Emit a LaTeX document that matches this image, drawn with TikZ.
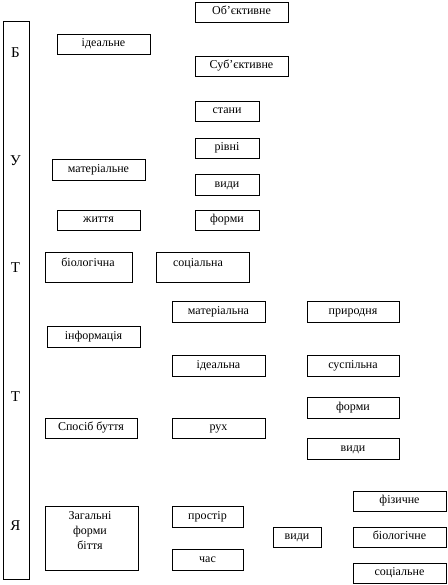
\documentclass[tikz,border=0pt]{standalone}
\usepackage{fontspec}
\setmainfont{Liberation Serif}
\begin{document}
\begin{tikzpicture}[x=1pt,y=-1pt,
  lbl/.style={font=\fontsize{12}{14}\selectfont,inner sep=0pt,text height=1.6ex,text depth=0.35ex},
  big/.style={font=\fontsize{15}{17}\selectfont,inner sep=0pt}]
\useasboundingbox (0,0) rectangle (447,585);
\newcommand{\bxx}[6]{%
  \draw[line width=0.8pt] (#2,#3) rectangle (#4,#5);
  \node[lbl] (#1) at ({(#2+#4)/2},{(#3+#5)/2}) {#6};}
% left tall box
\draw[line width=0.8pt] (3,21) rectangle (29,579);
\node[big] (lb) at (15.5,53) {Б};
\node[big] (lu) at (15.5,161) {У};
\node[big] (lt1) at (15.5,268) {Т};
\node[big] (lt2) at (15.5,397) {Т};
\node[big] (lya) at (15.5,526) {Я};
\bxx{obj}{195}{2}{288}{22}{Об’єктивне}
\bxx{ideal}{57}{34}{150}{54}{ідеальне}
\bxx{subj}{195}{56}{288}{76}{Суб’єктивне}
\bxx{stany}{195}{101}{259}{121}{стани}
\bxx{rivni}{195}{138}{259}{158}{рівні}
\bxx{vydy1}{195}{174}{259}{195}{види}
\bxx{formy1}{195}{210}{259}{230}{форми}
\bxx{mat}{52}{159}{145}{180}{матеріальне}
\bxx{zhyt}{57}{210}{140}{230}{життя}
\draw[line width=0.8pt] (45,252) rectangle (132,282);
\node[lbl] (bio) at (88,264) {біологічна};
\draw[line width=0.8pt] (156,252) rectangle (249,282);
\node[lbl] (soc) at (198,264) {соціальна};
\bxx{mata}{172}{301}{265}{322}{матеріальна}
\bxx{pryr}{307}{301}{399}{322}{природня}
\bxx{inf}{47}{326}{140}{347}{інформація}
\bxx{ideala}{172}{355}{265}{376}{ідеальна}
\bxx{susp}{307}{355}{399}{376}{суспільна}
\bxx{formy2}{307}{397}{399}{418}{форми}
\bxx{sposib}{45}{418}{137}{438}{Спосіб буття}
\bxx{rukh}{172}{418}{265}{438}{рух}
\bxx{vydy2}{307}{438}{399}{459}{види}
\bxx{fiz}{353}{491}{446}{511}{фізичне}
\draw[line width=0.8pt] (45,506) rectangle (138,570);
\node[font=\fontsize{12}{15}\selectfont,inner sep=0pt,align=center,anchor=north] (zag) at (90,511) {Загальні\\форми\\біття};
\bxx{prost}{172}{506}{243}{527}{простір}
\bxx{vydy3}{273}{527}{321}{547}{види}
\bxx{biol}{353}{527}{446}{547}{біологічне}
\bxx{chas}{172}{549}{243}{570}{час}
\bxx{socn}{353}{563}{446}{583}{соціальне}
\end{tikzpicture}
\end{document}
